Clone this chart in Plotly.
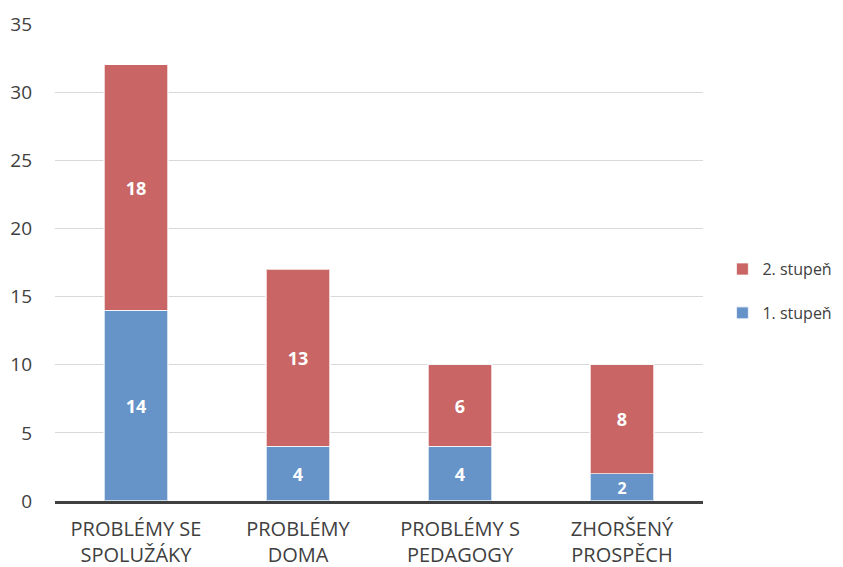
import plotly.graph_objects as go

categories = ["PROBLÉMY SE<br>SPOLUŽÁKY", "PROBLÉMY<br>DOMA", "PROBLÉMY S<br>PEDAGOGY", "ZHORŠENÝ<br>PROSPĚCH"]
stupen1 = [14, 4, 4, 2]
stupen2 = [18, 13, 6, 8]
series_names = ["1. stupeň", "2. stupeň"]
colors = ["#6794C8", "#C96564"]
ranks = [2, 1]
y_ticks = [0, 5, 10, 15, 20, 25, 30, 35]

fig = go.Figure()
for name, vals, col, rk in zip(series_names, [stupen1, stupen2], colors, ranks):
    fig.add_trace(go.Bar(
        x=categories, y=vals, name=name, legendgroup=name, legendrank=rk,
        marker=dict(color=col, line=dict(color="rgba(255,255,255,0.7)", width=1.2)),
        text=vals, textposition="inside", insidetextanchor="middle", textangle=0,
        textfont=dict(color="white", size=18, family="Open Sans"),
        texttemplate="<b>%{text}</b>",
    ))

fig.update_layout(
    barmode="stack",
    bargap=0.605,
    width=843, height=567,
    margin=dict(l=47, r=148, t=16, b=74),
    paper_bgcolor="white", plot_bgcolor="white",
    font=dict(family="Open Sans", size=19, color="#404040"),
    legend=dict(x=1.03, y=0.44, xanchor="left", yanchor="middle",
                traceorder="grouped", tracegroupgap=20, itemwidth=30,
                font=dict(size=16, color="#404040")),
    xaxis=dict(showline=True, linecolor="#404040", linewidth=3, ticks="",
               automargin=False, ticklabelstandoff=8,
               tickfont=dict(size=20, color="#404040")),
    yaxis=dict(range=[0, 35], tickvals=y_ticks, showgrid=True, gridcolor="#D9D9D9",
               gridwidth=1, zeroline=False, ticks="", ticklabelstandoff=22,
               automargin=False, tickfont=dict(size=19, color="#404040")),
    showlegend=True,
)

fig.write_html("out.html")
